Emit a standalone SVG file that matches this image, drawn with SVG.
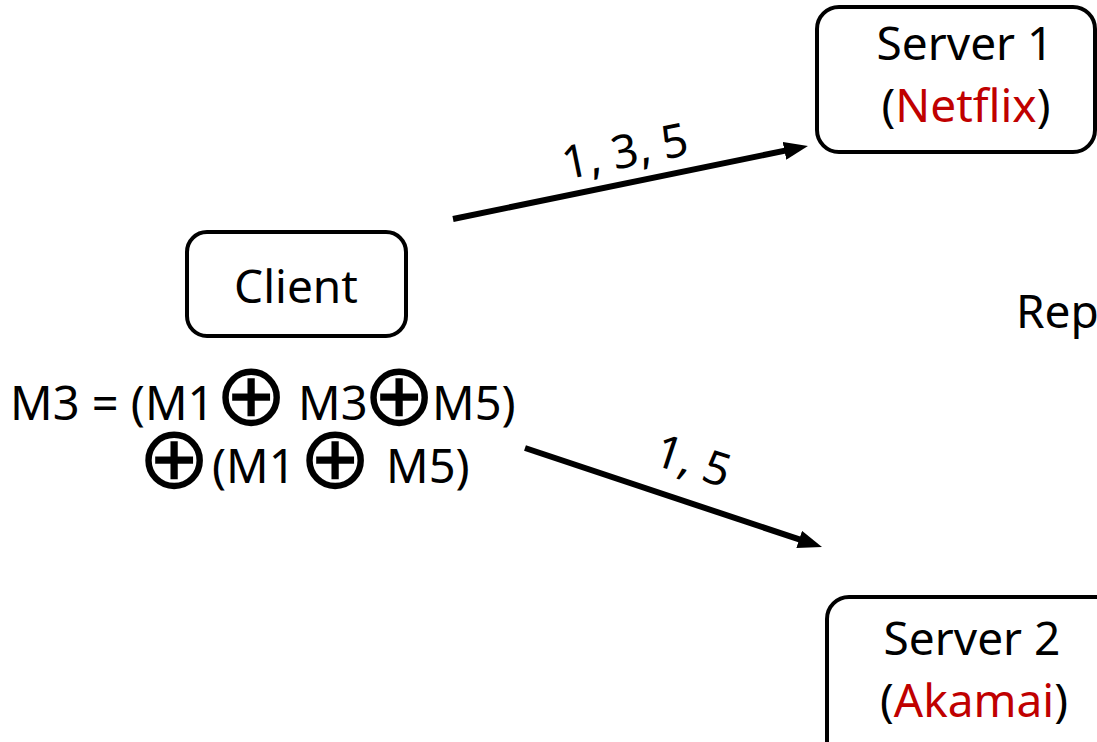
<svg xmlns="http://www.w3.org/2000/svg" width="1097" height="742" viewBox="0 0 1097 742">
<style>
.box{fill:#fff;stroke:#000;stroke-width:4}
.t{font-family:"Noto Sans","Open Sans",sans-serif;font-size:46px;fill:#000}
.f{font-size:47px}
.red{fill:#C00000}
.op{font-family:"DejaVu Sans",sans-serif;font-size:88px;fill:#000}
.conn{stroke:#000;stroke-width:6;fill:none}
</style>
<defs>
<marker id="ah" markerWidth="4" markerHeight="3" refX="2" refY="1.5" orient="auto" markerUnits="strokeWidth">
<path d="M0,0 L4,1.5 L0,3 Z" fill="#000"/>
</marker>
</defs>
<rect width="1097" height="742" fill="#fff"/>
<g id="connectors">
<line class="conn" x1="453" y1="219" x2="796.2" y2="148.4" marker-end="url(#ah)"/>
<line class="conn" x1="525" y1="448" x2="810.6" y2="543.2" marker-end="url(#ah)"/>
<text class="t" x="628" y="167" text-anchor="middle" transform="rotate(-11.6 628 167)">1, 3, 5</text>
<text class="t" x="688" y="476" text-anchor="middle" transform="rotate(18.4 688 476)">1, 5</text>
</g>
<g id="client">
<rect class="box" x="187" y="232" width="219" height="104" rx="20"/>
<text class="t" x="296" y="303" text-anchor="middle">Client</text>
</g>
<g id="server1">
<rect class="box" x="817" y="7" width="278" height="145" rx="22"/>
<text class="t" x="965" y="60" text-anchor="middle">Server 1</text>
<text class="t" x="966" y="122" text-anchor="middle">(<tspan class="red">Netflix</tspan>)</text>
</g>
<g id="server2">
<rect class="box" x="827" y="597" width="300" height="180" rx="22"/>
<text class="t" x="972" y="655" text-anchor="middle">Server 2</text>
<text class="t" x="974" y="717" text-anchor="middle">(<tspan class="red">Akamai</tspan>)</text>
</g>
<g id="rep">
<text class="t" x="1016" y="328">Rep</text>
</g>
<g id="formula">
<text class="t f" x="10" y="420">M3 = (M1</text>
<text class="op" x="251" y="425" text-anchor="middle">⊕</text>
<text class="t f" x="298" y="420">M3</text>
<text class="op" x="399" y="425" text-anchor="middle">⊕</text>
<text class="t f" x="432" y="420">M5)</text>
<text class="op" x="174" y="488" text-anchor="middle">⊕</text>
<text class="t f" x="212" y="483">(M1</text>
<text class="op" x="335" y="488" text-anchor="middle">⊕</text>
<text class="t f" x="386" y="483">M5)</text>
</g>
</svg>
